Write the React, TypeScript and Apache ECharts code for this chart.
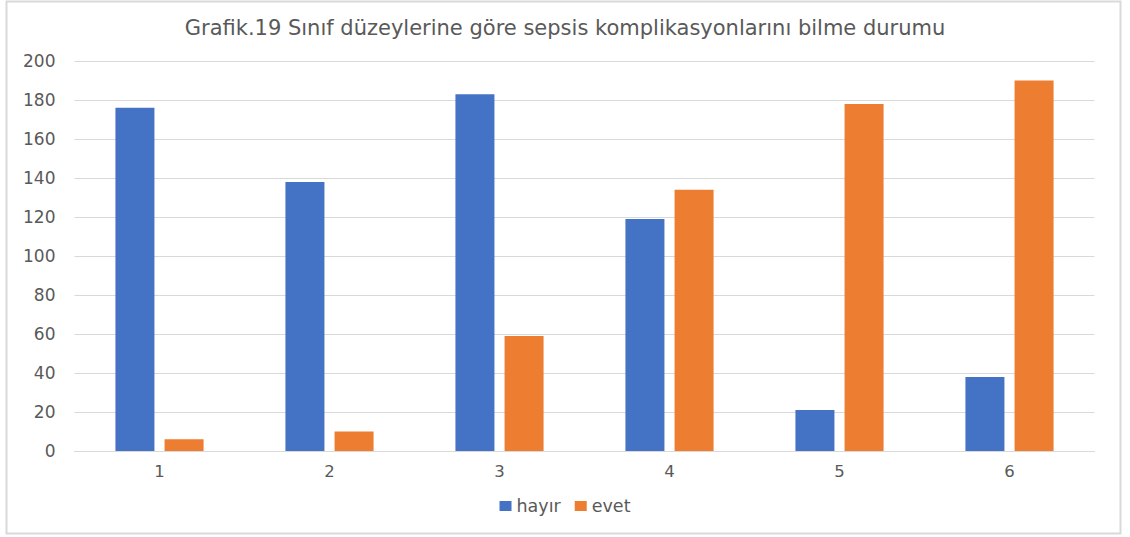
import React, { useEffect, useRef } from "react";
import * as echarts from "echarts";

const titleText = "Grafik.19 Sınıf düzeylerine göre sepsis komplikasyonlarını bilme durumu";
const categories = ["1", "2", "3", "4", "5", "6"];
const seriesNames = ["hayır", "evet"];
const hayirValues = [176, 138, 183, 119, 21, 38];
const evetValues = [6, 10, 59, 134, 178, 190];
const yTicks = { min: 0, max: 200, interval: 20 };

const FONT = "'DejaVu Sans', sans-serif";
const TEXT_COLOR = "#595959";

export default function App() {
  const ref = useRef<HTMLDivElement>(null);
  useEffect(() => {
    if (!ref.current) return;
    const chart = echarts.init(ref.current, null, { renderer: "svg" });
    chart.setOption({
      animation: false,
      backgroundColor: "#ffffff",
      textStyle: { fontFamily: FONT },
      graphic: [
        {
          type: "rect",
          shape: { x: 6.5, y: 1.5, width: 1114, height: 532 },
          style: { fill: "none", stroke: "#d9d9d9", lineWidth: 2 },
          silent: true,
        },
      ],
      title: {
        text: titleText,
        left: "center",
        top: 12,
        textStyle: { fontFamily: FONT, fontSize: 21, fontWeight: "normal", color: TEXT_COLOR },
      },
      legend: {
        data: seriesNames,
        bottom: 17,
        left: "center",
        itemWidth: 12,
        itemHeight: 10,
        itemGap: 14,
        icon: "rect",
        textStyle: { fontFamily: FONT, fontSize: 17.5, color: TEXT_COLOR },
      },
      grid: { left: 74.5, right: 35.5, top: 61, bottom: 86, containLabel: false },
      xAxis: {
        type: "category",
        data: categories,
        axisLine: { show: true, lineStyle: { color: "#d9d9d9", width: 1 } },
        axisTick: { show: false },
        axisLabel: { fontFamily: FONT, fontSize: 16.5, color: TEXT_COLOR, margin: 12 },
      },
      yAxis: {
        type: "value",
        min: yTicks.min,
        max: yTicks.max,
        interval: yTicks.interval,
        axisLine: { show: false },
        axisTick: { show: false },
        axisLabel: { fontFamily: FONT, fontSize: 17, color: TEXT_COLOR, margin: 19 },
        splitLine: { lineStyle: { color: "#d9d9d9", width: 1 } },
      },
      series: [
        {
          name: seriesNames[0],
          type: "bar",
          data: hayirValues,
          barWidth: 39,
          barGap: "26%",
          itemStyle: { color: "#4472c4" },
        },
        {
          name: seriesNames[1],
          type: "bar",
          data: evetValues,
          barWidth: 39,
          itemStyle: { color: "#ed7d31" },
        },
      ],
    });
    return () => chart.dispose();
  }, []);
  return (
    <div
      ref={ref}
      style={{ position: "fixed", left: 0, top: 0, width: 1130, height: 537 }}
    />
  );
}
